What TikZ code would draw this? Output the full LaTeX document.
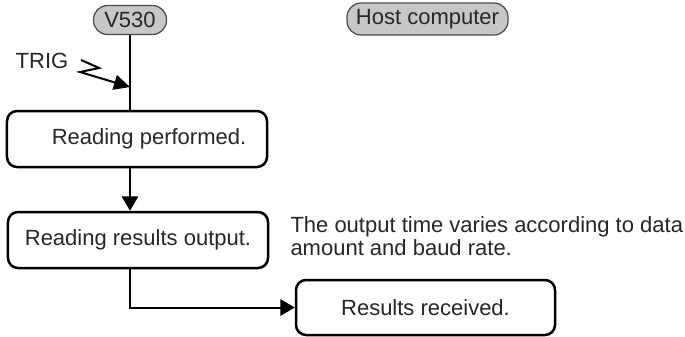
\documentclass[tikz,border=0pt]{standalone}
\usepackage{fontspec}
\setmainfont{Liberation Sans}
\usetikzlibrary{arrows.meta}
\usetikzlibrary{calc}
\newcommand{\drawflow}{\draw[line width=0.8pt, -{Triangle[length=5.8pt,width=6.6pt]}]}

\begin{document}
\begin{tikzpicture}[x=0.4pt, y=-0.4pt,
    every node/.style={font=\fontsize{8.8}{7.6}\selectfont, text=black!85},
    stepbox/.style={draw, line width=1pt, rounded corners=4pt, minimum width=104pt, minimum height=22.4pt, inner sep=0pt},
    actor/.style={draw=black!70, fill=black!22, line width=0.5pt, rounded corners=5.6pt, inner sep=0pt, minimum height=11.6pt}]
    \useasboundingbox (0,0) rectangle (685,336);

    % Draw lane heads
    \node[actor, minimum width=29.2pt] (v530) at (130,20) {V530};
    \node[actor, minimum width=64.4pt, minimum height=12.8pt] (host) at (427.5,19) {Host computer};

    % Draw steps
    \node[stepbox] (read) at (137,139) {\hspace{9.6pt}Reading performed.};
    \node[stepbox] (out) at (138,240) {Reading results output.};
    \node[stepbox, minimum width=103.6pt, minimum height=22pt] (recv) at (425.5,307.5) {Results received.};

    % Draw trigger
    \node (trig) at (42,61) {TRIG};
    \coordinate (hit) at (130,87);
    \draw[line width=0.8pt] (v530) -- (v530 |- read.north);
    \draw[line width=0.8pt, -{Triangle[length=6.4pt,width=6pt]}]
        ($(trig.east)+(4,-1)$) -- (99,68) -- (80,72) -- (hit);

    % Draw flow
    \drawflow (v530 |- read.south) -- (v530 |- out.north);
    \drawflow (v530 |- out.south) |- (recv.west);

    \node[anchor=north west, align=left, inner sep=0pt] (note) at (290,216)
        {The output time varies according to data\\amount and baud rate.};
\end{tikzpicture}
\end{document}
